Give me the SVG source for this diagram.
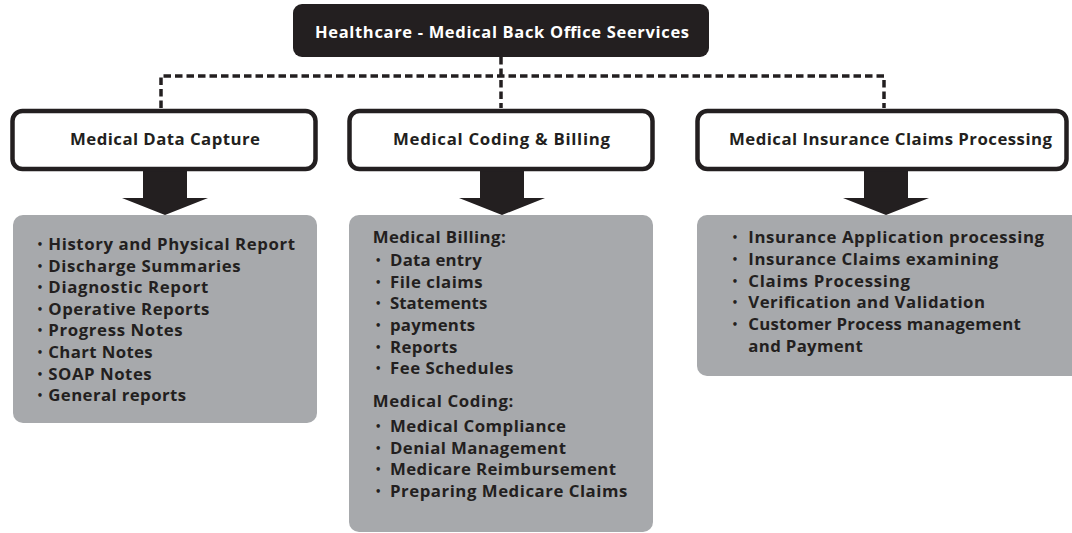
<svg xmlns="http://www.w3.org/2000/svg" width="1072" height="533" viewBox="0 0 1072 533">
<style>
  .t { font-family: "Open Sans", "DejaVu Sans", sans-serif; font-weight: 700; font-size: 16.8px; fill: #231f20; }
  .h { font-family: "Open Sans", "DejaVu Sans", sans-serif; font-weight: 700; font-size: 16.8px; fill: #231f20; text-anchor: middle; }
  .top { font-family: "Open Sans", "DejaVu Sans", sans-serif; font-weight: 700; font-size: 16.5px; fill: #ffffff; text-anchor: middle; }
  .b { font-family: "DejaVu Sans", sans-serif; font-weight: 700; font-size: 10px; fill: #231f20; text-anchor: middle; }
  .cat { fill: #ffffff; stroke: #231f20; stroke-width: 4.5; }
  .panel { fill: #a7a9ac; }
  .dash { fill: none; stroke: #231f20; stroke-width: 3.5; stroke-dasharray: 7.5 4; }
  .arrow { fill: #231f20; }
</style>
<rect width="1072" height="533" fill="#ffffff"/>

<g id="connectors">
  <path class="dash" d="M501 57 V108"/>
  <path class="dash" d="M161 108 V76 H884 V108"/>
  <path class="arrow" d="M143 171 H187 V198 H208 L165 215 L122 198 H143 Z"/>
  <path class="arrow" d="M480 171 H524 V198 H545 L502 215 L459 198 H480 Z"/>
  <path class="arrow" d="M864 171 H908 V198 H929 L886 215 L843 198 H864 Z"/>
</g>

<g id="root">
  <rect x="293" y="4" width="416" height="53" rx="9" fill="#231f20"/>
  <text class="top" x="502" y="38" textLength="374" lengthAdjust="spacing">Healthcare - Medical Back Office Seervices</text>
</g>

<g id="data-capture">
  <rect class="cat" x="12.5" y="111" width="303" height="58" rx="10"/>
  <text class="h" x="165" y="145" textLength="190" lengthAdjust="spacing">Medical Data Capture</text>
</g>

<g id="coding-billing">
  <rect class="cat" x="349.5" y="111" width="303" height="58" rx="10"/>
  <text class="h" x="501.5" y="145" textLength="217" lengthAdjust="spacing">Medical Coding &amp; Billing</text>
</g>

<g id="claims-processing">
  <rect class="cat" x="697.5" y="111" width="369" height="58" rx="10"/>
  <text class="h" x="890.5" y="145" textLength="323" lengthAdjust="spacing">Medical Insurance Claims Processing</text>
</g>

<g id="data-capture-list">
  <rect class="panel" x="13" y="215" width="304" height="208" rx="10"/>
  <text class="b" x="40" y="248">•</text>
  <text class="t" x="48.3" y="250" textLength="246.7" lengthAdjust="spacing">History and Physical Report</text>
  <text class="b" x="40" y="269.6">•</text>
  <text class="t" x="48.3" y="271.6" textLength="192.4" lengthAdjust="spacing">Discharge Summaries</text>
  <text class="b" x="40" y="291.2">•</text>
  <text class="t" x="48.3" y="293.2" textLength="160" lengthAdjust="spacing">Diagnostic Report</text>
  <text class="b" x="40" y="312.8">•</text>
  <text class="t" x="48.3" y="314.8" textLength="161" lengthAdjust="spacing">Operative Reports</text>
  <text class="b" x="40" y="334.4">•</text>
  <text class="t" x="48.3" y="336.4" textLength="134.4" lengthAdjust="spacing">Progress Notes</text>
  <text class="b" x="40" y="356">•</text>
  <text class="t" x="48.3" y="358" textLength="104.4" lengthAdjust="spacing">Chart Notes</text>
  <text class="b" x="40" y="377.6">•</text>
  <text class="t" x="48.3" y="379.6" textLength="103.4" lengthAdjust="spacing">SOAP Notes</text>
  <text class="b" x="40" y="399.2">•</text>
  <text class="t" x="48.3" y="401.2" textLength="137.7" lengthAdjust="spacing">General reports</text>
</g>

<g id="coding-billing-list">
  <rect class="panel" x="349" y="215" width="304" height="317" rx="10"/>
  <text class="t" x="372.7" y="243" textLength="133" lengthAdjust="spacing">Medical Billing:</text>
  <text class="b" x="378.3" y="264">•</text>
  <text class="t" x="390" y="266" textLength="91.7" lengthAdjust="spacing">Data entry</text>
  <text class="b" x="378.3" y="285.7">•</text>
  <text class="t" x="390" y="287.7" textLength="92.7" lengthAdjust="spacing">File claims</text>
  <text class="b" x="378.3" y="307.3">•</text>
  <text class="t" x="390" y="309.3" textLength="97.3" lengthAdjust="spacing">Statements</text>
  <text class="b" x="378.3" y="329">•</text>
  <text class="t" x="390" y="331" textLength="85" lengthAdjust="spacing">payments</text>
  <text class="b" x="378.3" y="350.7">•</text>
  <text class="t" x="390" y="352.7" textLength="67.3" lengthAdjust="spacing">Reports</text>
  <text class="b" x="378.3" y="372.3">•</text>
  <text class="t" x="390" y="374.3" textLength="123.3" lengthAdjust="spacing">Fee Schedules</text>
  <text class="t" x="372.7" y="407" textLength="140.6" lengthAdjust="spacing">Medical Coding:</text>
  <text class="b" x="378.3" y="430">•</text>
  <text class="t" x="390" y="432" textLength="176" lengthAdjust="spacing">Medical Compliance</text>
  <text class="b" x="378.3" y="451.7">•</text>
  <text class="t" x="390" y="453.7" textLength="176" lengthAdjust="spacing">Denial Management</text>
  <text class="b" x="378.3" y="473.3">•</text>
  <text class="t" x="390" y="475.3" textLength="226" lengthAdjust="spacing">Medicare Reimbursement</text>
  <text class="b" x="378.3" y="495">•</text>
  <text class="t" x="390" y="497" textLength="237.3" lengthAdjust="spacing">Preparing Medicare Claims</text>
</g>

<g id="claims-processing-list">
  <rect class="panel" x="697" y="215" width="390" height="161" rx="10"/>
  <text class="b" x="735" y="241">•</text>
  <text class="t" x="748.3" y="243" textLength="295.7" lengthAdjust="spacing">Insurance Application processing</text>
  <text class="b" x="735" y="263">•</text>
  <text class="t" x="748.3" y="265" textLength="250" lengthAdjust="spacing">Insurance Claims examining</text>
  <text class="b" x="735" y="285">•</text>
  <text class="t" x="748.3" y="287" textLength="161.7" lengthAdjust="spacing">Claims Processing</text>
  <text class="b" x="735" y="306">•</text>
  <text class="t" x="748.3" y="308" textLength="236.7" lengthAdjust="spacing">Verification and Validation</text>
  <text class="b" x="735" y="328">•</text>
  <text class="t" x="748.3" y="330" textLength="272.4" lengthAdjust="spacing">Customer Process management</text>
  <text class="t" x="748.3" y="352" textLength="114.4" lengthAdjust="spacing">and Payment</text>
</g>
</svg>
